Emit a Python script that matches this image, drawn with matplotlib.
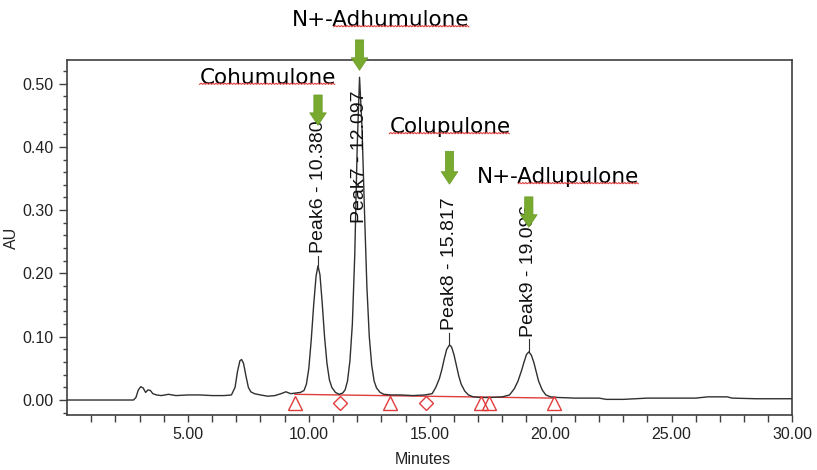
import matplotlib
matplotlib.use("Agg")
import matplotlib.pyplot as plt
import numpy as np
from matplotlib.lines import Line2D
from matplotlib.transforms import IdentityTransform

# chromatogram trace (minutes, AU)
trace_t = [0.0, 2.75, 2.85, 2.95, 3.05, 3.15, 3.25, 3.35, 3.45, 3.55, 3.7, 3.9, 4.2, 4.5,
           5.0, 5.5, 6.0, 6.5, 6.8, 6.95, 7.05, 7.15, 7.22, 7.3, 7.4, 7.5, 7.6, 7.75, 8.0,
           8.3, 8.6, 8.85, 9.05, 9.25, 9.45, 9.65, 9.8, 9.9, 10.0, 10.1, 10.2, 10.3, 10.38,
           10.46, 10.55, 10.65, 10.75, 10.85, 10.95, 11.1, 11.25, 11.4, 11.5, 11.6, 11.7,
           11.8, 11.9, 12.0, 12.097, 12.2, 12.3, 12.4, 12.5, 12.6, 12.7, 12.8, 12.95, 13.1,
           13.4, 13.8, 14.3, 14.8, 15.1, 15.25, 15.4, 15.5, 15.6, 15.7, 15.817, 15.9, 16.0,
           16.1, 16.2, 16.3, 16.45, 16.6, 16.8, 17.1, 17.5, 18.0, 18.3, 18.5, 18.65, 18.8,
           18.9, 19.0, 19.096, 19.2, 19.3, 19.4, 19.5, 19.65, 19.8, 20.0, 20.3, 21.0, 22.0,
           22.3, 23.0, 23.5, 24.0, 25.0, 26.0, 26.5, 27.3, 27.5, 28.5, 30.0]
trace_au = [0.0, 0.0, 0.004, 0.016, 0.021, 0.019, 0.012, 0.016, 0.015, 0.010, 0.008, 0.007,
            0.009, 0.007, 0.008, 0.008, 0.007, 0.007, 0.008, 0.020, 0.045, 0.062, 0.064,
            0.058, 0.038, 0.020, 0.013, 0.010, 0.008, 0.006, 0.007, 0.010, 0.013, 0.010,
            0.011, 0.012, 0.015, 0.025, 0.050, 0.095, 0.150, 0.196, 0.212, 0.198, 0.155,
            0.100, 0.058, 0.032, 0.020, 0.012, 0.009, 0.011, 0.016, 0.030, 0.062, 0.120,
            0.230, 0.400, 0.510, 0.430, 0.300, 0.180, 0.100, 0.055, 0.030, 0.019, 0.012,
            0.009, 0.008, 0.008, 0.007, 0.008, 0.010, 0.020, 0.034, 0.048, 0.065, 0.080,
            0.087, 0.084, 0.072, 0.055, 0.038, 0.025, 0.014, 0.008, 0.005, 0.004, 0.004,
            0.005, 0.008, 0.018, 0.030, 0.047, 0.060, 0.072, 0.076, 0.071, 0.060, 0.045,
            0.030, 0.016, 0.008, 0.005, 0.004, 0.003, 0.003, 0.001, 0.001, 0.002, 0.003,
            0.003, 0.003, 0.005, 0.005, 0.003, 0.002, 0.002]

# integration baseline and peak start/end markers
base_t = [9.42, 20.14]
base_au = [0.009, 0.003]
start_end_t = [9.42, 13.35, 17.1, 17.45, 20.14]
drop_t = [11.28, 14.83]

# labelled peaks
peak_names = ["Peak6", "Peak7", "Peak8", "Peak9"]
peak_rt = [10.380, 12.097, 15.817, 19.096]
peak_top = [0.212, 0.510, 0.087, 0.076]
peak_label_y = [0.232, 0.280, 0.110, 0.100]

# compound call-outs
compounds = ["Cohumulone", "N+-Adhumulone", "Colupulone", "N+-Adlupulone"]
compound_x = [8.3, 12.98, 15.83, 20.29]
compound_y = [0.509, 0.600, 0.431, 0.352]
arrow_tail = [0.482, 0.569, 0.393, 0.321]
arrow_tip = [0.434, 0.521, 0.341, 0.273]

fig = plt.figure(figsize=(8.17, 4.70), dpi=100)
ax = fig.add_axes([0.082, 0.117, 0.888, 0.755])

ax.plot(trace_t, trace_au, color="#303030", lw=1.0, zorder=3)
ax.plot(base_t, base_au, color="#e03c3c", lw=1.0, zorder=2)
ax.plot(start_end_t, np.full(len(start_end_t), -0.004), ls="none", marker="^",
        ms=10, mfc="none", mec="#e03c3c", mew=1.0, zorder=4)
ax.plot(drop_t, np.full(len(drop_t), -0.004), ls="none", marker="D",
        ms=7, mfc="none", mec="#e03c3c", mew=1.0, zorder=4)

for name, rt, top, ly in zip(peak_names, peak_rt, peak_top, peak_label_y):
    if ly > top:
        ax.plot([rt, rt], [top, ly - 0.004], color="#303030", lw=0.8)
    ax.text(rt, ly, "%s - %.3f" % (name, rt), rotation=90, ha="center", va="bottom",
            fontsize=14, family="Liberation Sans", color="#111111", zorder=5)

ax.set_xlim(0, 30)
ax.set_ylim(-0.0237, 0.537)
ax.set_xticks([5, 10, 15, 20, 25, 30])
ax.set_xticklabels(["5.00", "10.00", "15.00", "20.00", "25.00", "30.00"])
ax.set_xticks([m for m in range(1, 30) if m % 5], minor=True)
ax.set_yticks(np.arange(0, 0.51, 0.1))
ax.set_yticklabels(["%.2f" % v for v in np.arange(0, 0.51, 0.1)])
ax.set_yticks(np.arange(-0.02, 0.53, 0.02), minor=True)

ax.tick_params(axis="both", which="both", direction="out", colors="#404040",
               labelcolor="#222222", labelsize=11.5, width=1.0)
ax.tick_params(axis="x", which="both", length=5)
ax.tick_params(axis="y", which="major", length=6)
ax.tick_params(axis="y", which="minor", length=3)
for lab in ax.get_xticklabels() + ax.get_yticklabels():
    lab.set_family("Liberation Sans")
for sp in ax.spines.values():
    sp.set_color("#404040")
    sp.set_linewidth(1.2)

ax.set_xlabel("Minutes", fontsize=11.5, family="Liberation Sans", color="#222222")
ax.xaxis.set_label_coords(0.49, -0.105)
ax.set_ylabel("AU", fontsize=11.5, family="Liberation Sans", color="#222222")
ax.yaxis.set_label_coords(-0.066, 0.5)

labels = []
for name, cx, cy in zip(compounds, compound_x, compound_y):
    t = ax.text(cx, cy, name, ha="center", va="center", fontsize=15.5,
                family="DejaVu Sans", color="black", clip_on=False, zorder=6)
    labels.append(t)

for rt, tail, tip in zip(peak_rt, arrow_tail, arrow_tip):
    ax.annotate("", xy=(rt, tip), xytext=(rt, tail), annotation_clip=False,
                arrowprops=dict(arrowstyle="simple,head_length=0.75,head_width=1.0,tail_width=0.5",
                                mutation_scale=12, fc="#77aa2e", ec="#6a9a28", lw=0.5,
                                shrinkA=0, shrinkB=0), zorder=7)

# red spell-check squiggles under the compound names
fig.canvas.draw()
rend = fig.canvas.get_renderer()
for t in labels:
    bb = t.get_window_extent(rend)
    x0 = bb.x0
    txt = t.get_text()
    if txt.startswith("N+-"):
        tmp = fig.text(0, 0, "N+-", fontsize=15.5, family="DejaVu Sans")
        x0 += tmp.get_window_extent(rend).width
        tmp.remove()
    xs = np.arange(x0, bb.x1, 1.5)
    ys = bb.y0 + 3.5 + (np.arange(len(xs)) % 2) * 1.2
    fig.add_artist(Line2D(xs, ys, transform=IdentityTransform(), color="#e04040", lw=0.8))

fig.savefig("out.png", dpi=100)
